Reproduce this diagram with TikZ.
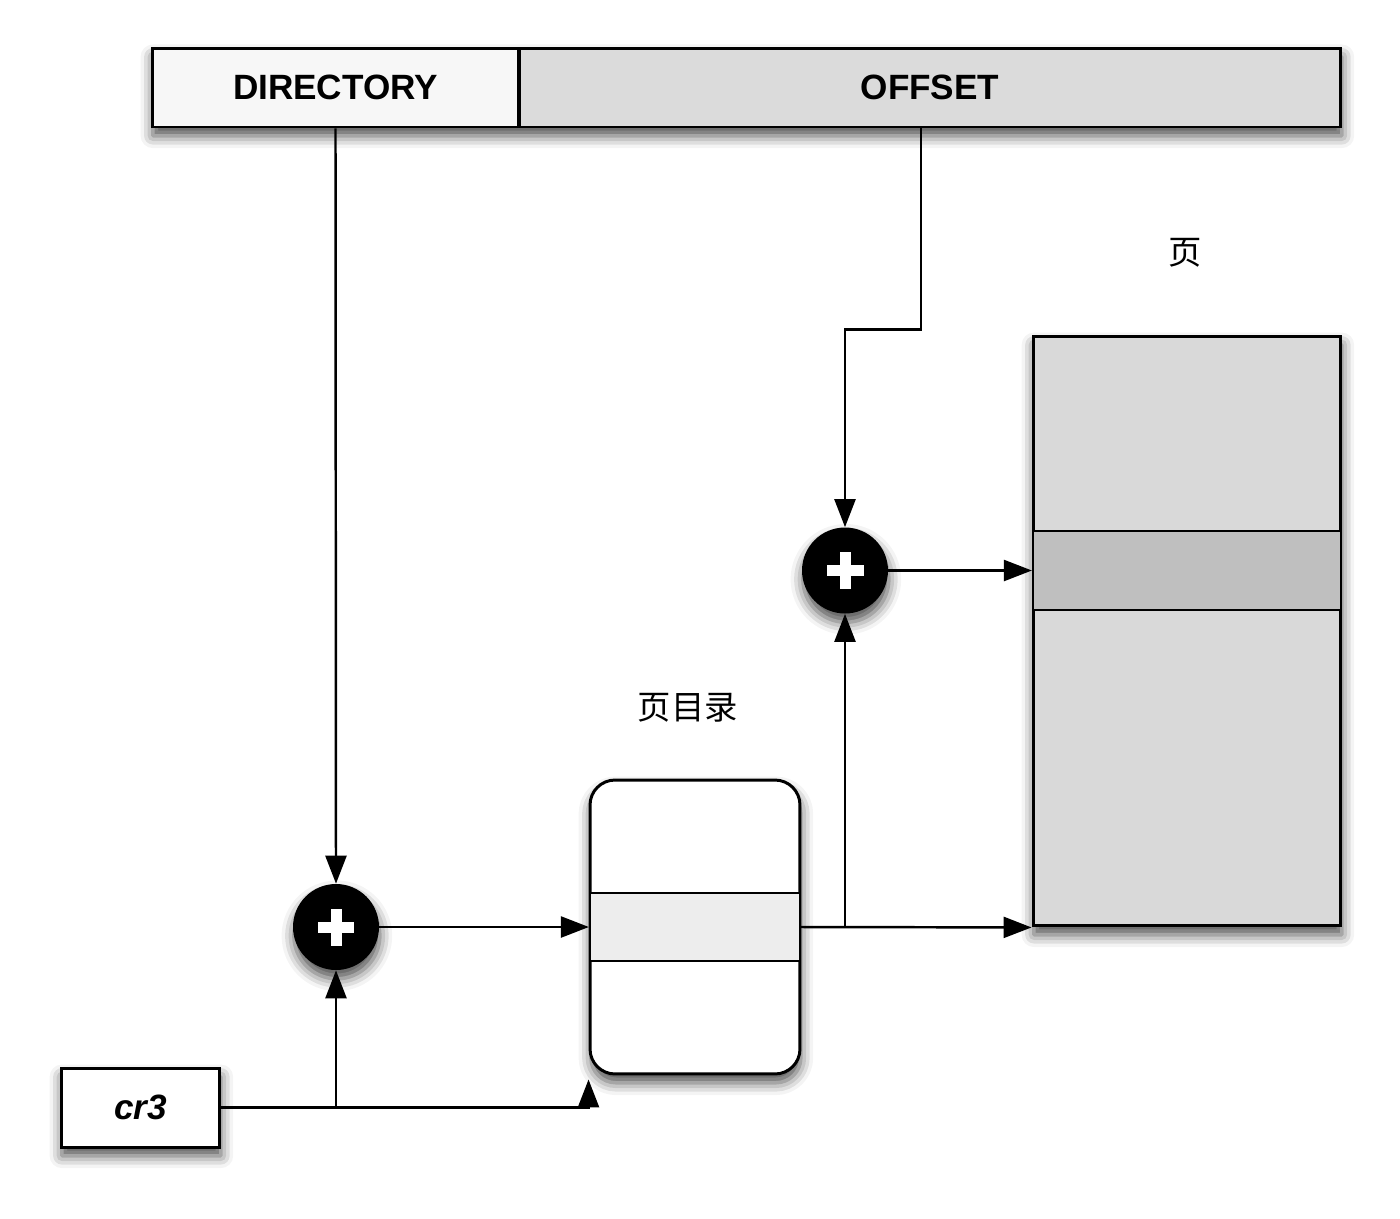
\documentclass[tikz,border=0pt]{standalone}
\usepackage{fontspec}
\setmainfont{Liberation Sans}
\newfontfamily\cjk{Noto Sans CJK SC}
\usetikzlibrary{arrows.meta, shadows.blur}

\begin{document}
\begin{tikzpicture}[x=0.02cm, y=-0.02cm,
		shade/.style={blur shadow={shadow xshift=0.5pt, shadow yshift=-5pt, shadow blur radius=7pt, shadow opacity=70}},
		fieldbox/.style={draw, line width=1.7pt, minimum height=1.58cm, inner sep=0pt, font=\fontsize{20}{24}\selectfont\bfseries},
		tablebox/.style={draw, line width=1.7pt, inner sep=0pt, shade},
		slot/.style={draw, line width=1.3pt, inner sep=0pt},
		adder/.style={circle, fill=black, minimum size=1.72cm, inner sep=0pt, shade,
			path picture={
				\fill[white] ([shift={(-0.37cm,-0.11cm)}]path picture bounding box.center) rectangle ([shift={(0.37cm,0.11cm)}]path picture bounding box.center);
				\fill[white] ([shift={(-0.11cm,-0.37cm)}]path picture bounding box.center) rectangle ([shift={(0.11cm,0.37cm)}]path picture bounding box.center);
			}},
		conn/.style={line width=1.4pt, draw=black, -{Triangle[length=0.56cm, width=0.42cm, fill=black]}},
		cjklabel/.style={font=\cjk\fontsize{19}{23}\selectfont}
	]
		\useasboundingbox (0,0) rectangle (1400,1218);

		% one shadow under the whole address bar
		\begin{scope}
			\path[shade, fill=white] (152,48) rectangle (1341,127);
		\end{scope}
		\node[fieldbox, fill=black!14, minimum width=16.44cm] (offset) at (930,87.5) {OFFSET};
		\node[fieldbox, fill=black!3, minimum width=7.34cm] (dir) at (335.5,87.5) {DIRECTORY};
		\node[fieldbox, fill=white, minimum width=3.18cm, shade, font=\fontsize{20}{24}\selectfont\bfseries\itshape] (cr3) at (140.5,1107.5) {cr3};

		\node[tablebox, fill=white, rounded corners=0.5cm, minimum width=4.2cm, minimum height=5.88cm] (pagedir) at (695,927) {};
		\node[slot, fill=black!7, minimum width=4.2cm, minimum height=1.36cm] (dirslot) at (695,927) {};
		\node[tablebox, fill=black!15, minimum width=6.16cm, minimum height=11.8cm] (page) at (1187,631) {};
		\node[slot, fill=black!25, minimum width=6.16cm, minimum height=1.58cm] (pageslot) at (1187,570.5) {};

		\node[adder] (addA) at (336,927) {};
		\node[adder] (addB) at (845,570.5) {};

		\node[cjklabel] (pagedirlabel) at (688,708) {页目录};
		\node[cjklabel] (pagelabel) at (1185,253) {页};

		\draw[conn] (dir.south) -- (addA.north);
		\draw[conn] ([xshift=-0.18cm]offset.south) -- ++(0,201) -| (addB.north);
		\draw[conn] (cr3.east) -| (addA.south);
		\draw[conn] (cr3.east) -| ([yshift=-0.08cm]pagedir.south west);
		\draw[conn] (addA.east) -- (dirslot.west);
		\draw[conn] (dirslot.east) -- (page.south west);
		\draw[conn] (dirslot.east -| addB) -- (addB.south);
		\draw[conn] (addB.east) -- (pageslot.west);
	\end{tikzpicture}
\end{document}
